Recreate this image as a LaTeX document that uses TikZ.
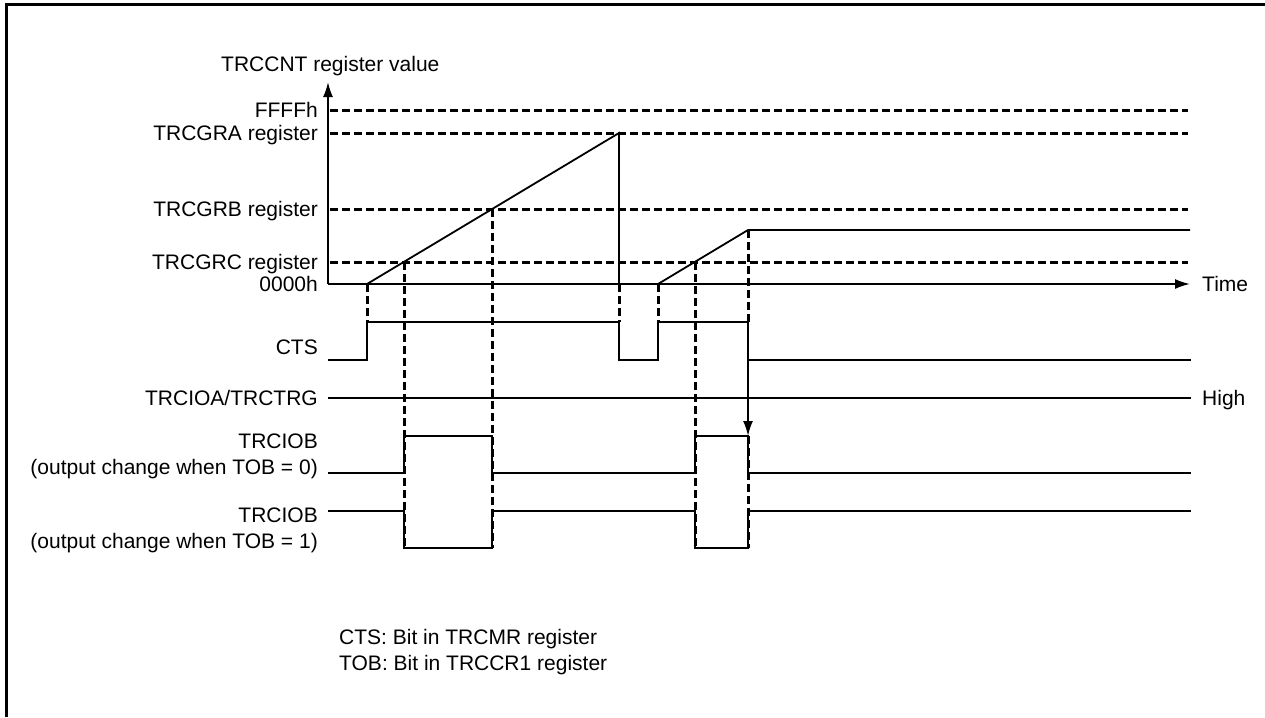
\documentclass[tikz,border=0pt]{standalone}
\usepackage{fontspec}
\setmainfont{Liberation Sans}
\usetikzlibrary{arrows.meta}

\begin{document}
\begin{tikzpicture}[x=1pt,y=-1pt,>={Latex[length=15pt,width=10pt]},
  every node/.style={font=\fontsize{21}{26}\selectfont,inner sep=0pt},
  wave/.style={line width=1.8pt},
  guide/.style={line width=3pt,dash pattern=on 8pt off 4pt},
  lbl/.style={anchor=base east,yshift=-7.5pt}]
\useasboundingbox (0,0) rectangle (1265,717);
% frame
\draw[line width=3pt] (6.5,717) -- (6.5,4.5) -- (1265,4.5);
% counter levels
\foreach \yy/\txt/\nm in {110/FFFFh/ffff,133/TRCGRA register/gra,209/TRCGRB register/grb,262/TRCGRC register/grc}{
  \draw[guide] (330,\yy) -- (1188,\yy);
  \node[lbl] (\nm) at (318,\yy) {\txt};
}
\node[lbl] (zero) at (318,284) {0000h};
% guide lines down to the signals
\foreach \xx/\ya/\yb in {367/284/322,619/284/322,658/284/322,404/262/548,492/209/548,695/262/548,748/230/322,748/436/548}{
  \draw[guide] (\xx,\ya) -- (\xx,\yb);
}
% axes
\coordinate (orig) at (328,284);
\draw[wave,->] (orig) -- (328,82);
\draw[wave,->] (orig) -- (1190,284);
\node[anchor=base west,yshift=-7.5pt] (yname) at (221,64) {TRCCNT register value};
\node[anchor=base west,yshift=-7.5pt] (tname) at (1202,284) {Time};
% counter value
\draw[wave] (367,284) -- (619,133) -- (619,284);
\draw[wave] (658,284) -- (748,230) -- (1190,230);
% signals
\node[lbl] (cts) at (318,347) {CTS};
\draw[wave] (328,360) -- (367,360) -- (367,322) -- (619,322) -- (619,360) -- (658,360) -- (658,322) -- (748,322) -- (748,360) -- (1191,360);
\node[lbl] (ioa) at (318,398) {TRCIOA/TRCTRG};
\draw[wave] (328,398) -- (1191,398);
\node[anchor=base west,yshift=-7.5pt] (high) at (1202,398) {High};
\node[anchor=east,align=right] (iob0) at (318,456) {TRCIOB\\(output change when TOB = 0)};
\draw[wave] (328,473) -- (404,473) -- (404,436) -- (492,436) -- (492,473) -- (695,473) -- (695,436) -- (748,436) -- (748,473) -- (1191,473);
\node[anchor=east,align=right] (iob1) at (318,530) {TRCIOB\\(output change when TOB = 1)};
\draw[wave] (328,511) -- (404,511) -- (404,548) -- (492,548) -- (492,511) -- (695,511) -- (695,548) -- (748,548) -- (748,511) -- (1191,511);
% stop arrow
\coordinate (ctsoff) at (748,322);
\coordinate (iobhold) at (748,436);
\draw[wave,->] (ctsoff) -- (iobhold);
% notes
\node[anchor=north west,align=left] (notes) at (339,629.5) {CTS: Bit in TRCMR register\\TOB: Bit in TRCCR1 register};
\end{tikzpicture}
\end{document}
